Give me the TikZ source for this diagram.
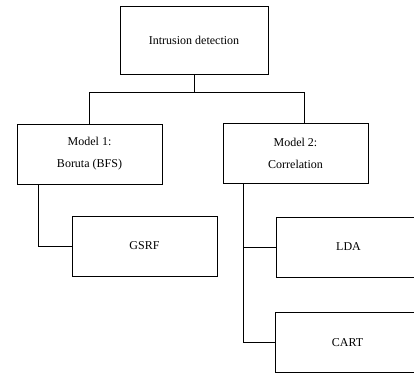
\documentclass[tikz,border=0pt]{standalone}
\usepackage{fontspec}
\setmainfont{Liberation Serif}
\usetikzlibrary{positioning}

\begin{document}
\begin{tikzpicture}[
		x=1pt, y=-1pt,
		line join=miter,
		font=\fontsize{12}{13}\selectfont,
		box/.style={draw, line width=1pt, rectangle, minimum width=145pt, minimum height=60pt, inner sep=0pt, align=center},
		link/.style={line width=1pt}
	]
	
	% Frame
	\useasboundingbox (0,0) rectangle (414,373);
	
	% Boxes
	\node[box, minimum width=148pt, minimum height=68pt] (top) at (194,40) {Intrusion detection};
	\node[box] (mone) at (89.5,154) {Model 1:\\[9pt]Boruta (BFS)};
	\node[box] (mtwo) at (295.5,153) {Model 2:\\[9pt]Correlation};
	\node[box] (gsrf) at (144.5,246) {GSRF};
	\node[box] (lda) at (348.5,247) {LDA};
	\node[box] (cart) at (347.5,342.5) {CART};
	
	% Connectors
	\coordinate (split) at ([yshift=-18pt]top.south);
	\draw[link] (top.south) -- (split);
	\draw[link] (mone.north) |- (split) -| ([xshift=8.5pt]mtwo.north);
	\draw[link] ([xshift=22pt]mone.south west) |- (gsrf.west);
	\draw[link] ([xshift=21pt]mtwo.south west) |- (cart.west);
	\draw[link] ([xshift=21pt]mtwo.south west |- lda.west) -- (lda.west);
	
\end{tikzpicture}
\end{document}
